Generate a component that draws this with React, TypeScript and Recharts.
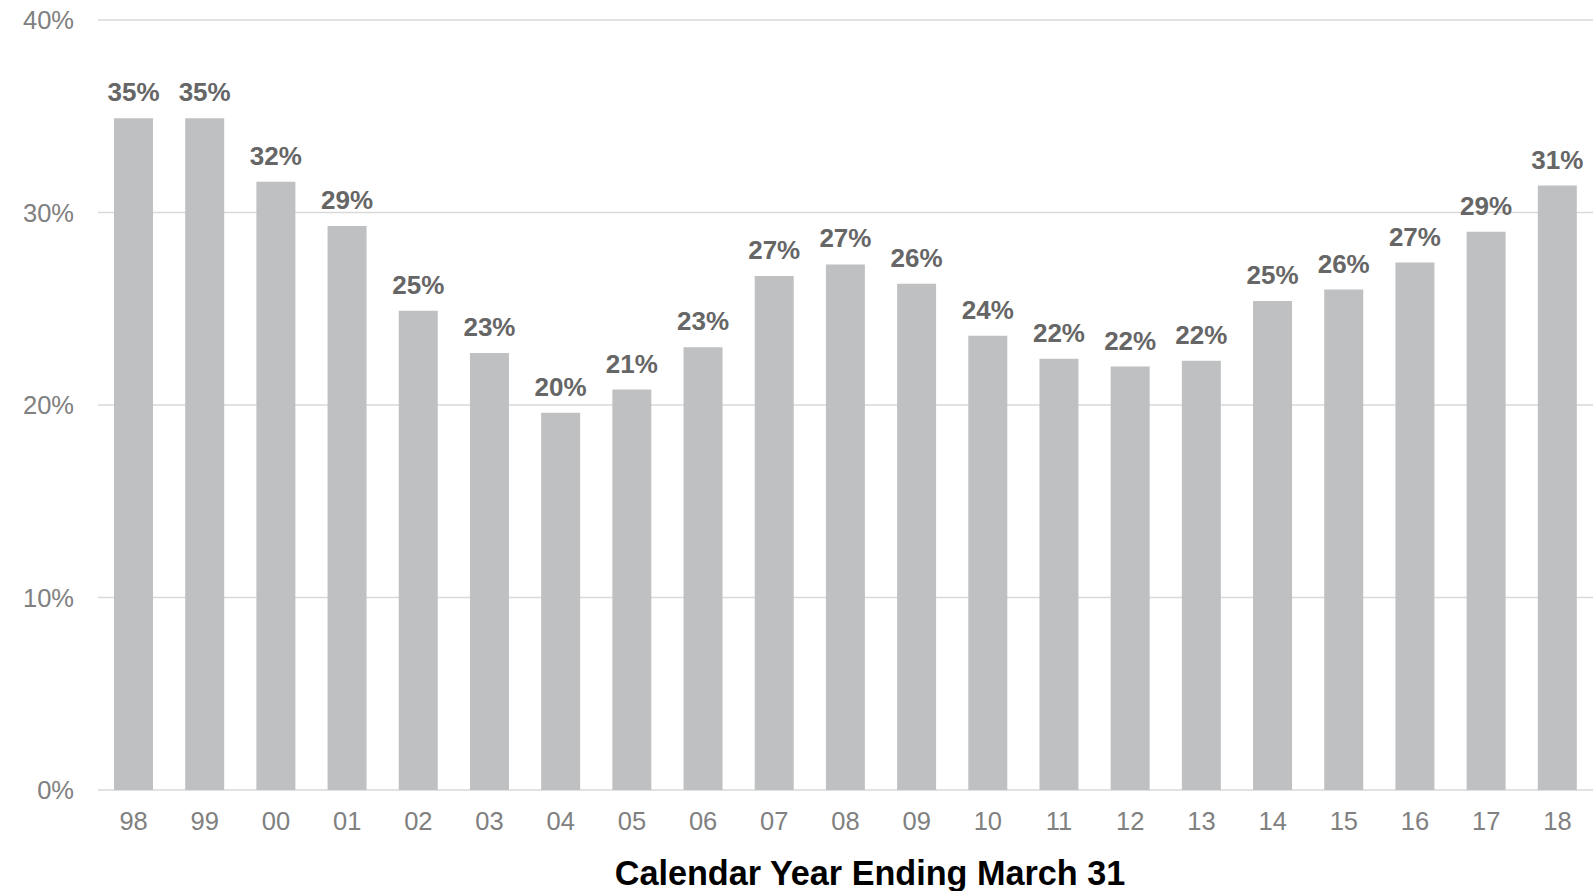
import React from "react";
import {
  BarChart,
  Bar,
  XAxis,
  YAxis,
  CartesianGrid,
  LabelList,
  Label,
} from "recharts";

const years = [
  "98", "99", "00", "01", "02", "03", "04", "05", "06", "07", "08",
  "09", "10", "11", "12", "13", "14", "15", "16", "17", "18",
];

const shares = [
  34.9, 34.9, 31.6, 29.3, 24.9, 22.7, 19.6, 20.8, 23.0, 26.7, 27.3,
  26.3, 23.6, 22.4, 22.0, 22.3, 25.4, 26.0, 27.4, 29.0, 31.4,
];

const yTicks = [0, 10, 20, 30, 40];

const data = years.map((year, i) => ({ year, share: shares[i] }));

const FONT = '"Liberation Sans", Arial, sans-serif';

const App = () => {
  return (
    <div style={{ position: "fixed", left: 0, top: 0, width: 1596, height: 891, background: "#fff" }}>
      <BarChart
        width={1596}
        height={891}
        data={data}
        margin={{ top: 20, right: 3, left: 0, bottom: 0 }}
      >
        <CartesianGrid vertical={false} stroke="#d9d9d9" strokeWidth={1.5} />
        <XAxis
          dataKey="year"
          axisLine={false}
          tickLine={false}
          tickSize={0}
          tickMargin={22}
          height={101}
          interval={0}
          tick={{ fontSize: 25.5, fill: "#808080", fontFamily: FONT }}
        >
          <Label
            value="Calendar Year Ending March 31"
            position="insideBottom"
            offset={6}
            dx={24.5}
            style={{ fontSize: 34.2, fontWeight: "bold", fill: "#000", fontFamily: FONT }}
          />
        </XAxis>
        <YAxis
          domain={[0, 40]}
          ticks={yTicks}
          axisLine={false}
          tickLine={false}
          tickSize={0}
          tickMargin={24}
          width={98}
          tickFormatter={(v: number) => `${v}%`}
          tick={{ fontSize: 25.5, fill: "#808080", fontFamily: FONT }}
        />
        <Bar dataKey="share" fill="#bfc0c2" barSize={39} isAnimationActive={false}>
          <LabelList
            dataKey="share"
            position="top"
            offset={17}
            formatter={(v: number) => `${Math.round(v)}%`}
            style={{ fontSize: 26, fontWeight: "bold", fill: "#666666", fontFamily: FONT }}
          />
        </Bar>
      </BarChart>
    </div>
  );
};

export default App;
